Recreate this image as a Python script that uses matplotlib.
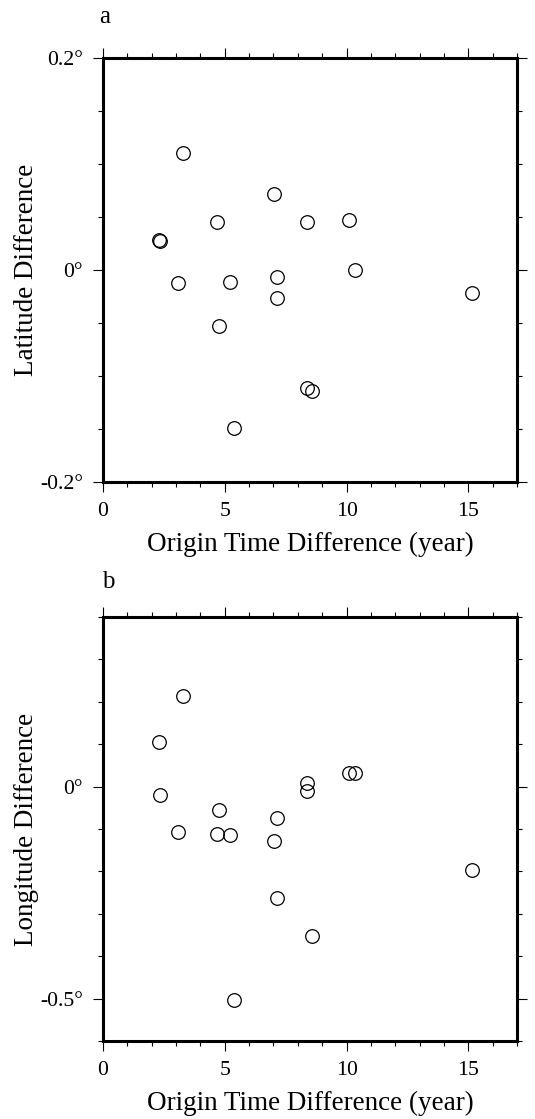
import matplotlib
matplotlib.use("Agg")
import matplotlib.pyplot as plt
from matplotlib.ticker import MultipleLocator, FixedLocator, FixedFormatter

# ---- data ----
time_diff = [2.31, 2.36, 3.09, 3.28, 4.67, 4.78, 5.20, 5.38, 7.02,
             7.13, 7.13, 8.36, 8.36, 8.58, 10.11, 10.33, 15.16]
lat_diff = [0.028, 0.027, -0.012, 0.110, 0.045, -0.053, -0.011, -0.149, 0.072,
            -0.007, -0.026, 0.045, -0.111, -0.114, 0.047, 0.000, -0.022]
lon_diff = [0.106, -0.019, -0.107, 0.214, -0.111, -0.056, -0.113, -0.503, -0.128,
            -0.075, -0.263, 0.009, -0.011, -0.352, 0.032, 0.033, -0.196]

x_ticks = [0, 5, 10, 15]
x_tick_labels = ["0", "5", "10", "15"]
lat_ticks = [-0.2, 0.0, 0.2]
lat_tick_labels = ["-0.2°", "0°", "0.2°"]
lon_ticks = [-0.5, 0.0]
lon_tick_labels = ["-0.5°", "0°"]

x_label = "Origin Time Difference (year)"
lat_label = "Latitude Difference"
lon_label = "Longitude Difference"
panel_labels = ["a", "b"]

plt.rcParams['font.family'] = ['Liberation Serif', 'DejaVu Serif']

W, H = 535, 1119
fig = plt.figure(figsize=(W / 100, H / 100), dpi=100)

def px_axes(left, top, right, bottom):
    return fig.add_axes([left / W, 1 - bottom / H, (right - left) / W, (bottom - top) / H])

ax1 = px_axes(103, 58, 517, 482)
ax2 = px_axes(103, 617, 517, 1041)

specs = [
    (ax1, lat_diff, (-0.2, 0.2), lat_ticks, lat_tick_labels, 0.05, lat_label),
    (ax2, lon_diff, (-0.6, 0.4), lon_ticks, lon_tick_labels, 0.1, lon_label),
]

for ax, yvals, ylim, yt, ytl, yminor, ylab in specs:
    ax.plot(time_diff, yvals, linestyle='none', marker='o', ms=9.8,
            mfc='none', mec='black', mew=0.9, clip_on=False)
    ax.set_xlim(0, 17)
    ax.set_ylim(*ylim)
    ax.xaxis.set_major_locator(FixedLocator(x_ticks))
    ax.xaxis.set_major_formatter(FixedFormatter(x_tick_labels))
    ax.xaxis.set_minor_locator(MultipleLocator(1))
    ax.yaxis.set_major_locator(FixedLocator(yt))
    ax.yaxis.set_major_formatter(FixedFormatter(ytl))
    ax.yaxis.set_minor_locator(MultipleLocator(yminor))
    ax.tick_params(which='both', direction='out', top=True, right=True,
                   labeltop=False, labelright=False, width=0.8, color='black')
    ax.tick_params(which='major', length=7.5, pad=7, labelsize=15.7)
    ax.tick_params(which='minor', length=3.5)
    for s in ax.spines.values():
        s.set_linewidth(2.2)
    ax.set_xlabel(x_label, fontsize=19.5, labelpad=8)
    ax.set_ylabel(ylab, fontsize=19.5)
    ax.yaxis.set_label_coords(-0.155, 0.5)

fig.text(99 / W, 1 - 23 / H, panel_labels[0], fontsize=18, ha='left', va='baseline')
fig.text(102 / W, 1 - 588 / H, panel_labels[1], fontsize=18, ha='left', va='baseline')

fig.savefig("out.png", dpi=100)
